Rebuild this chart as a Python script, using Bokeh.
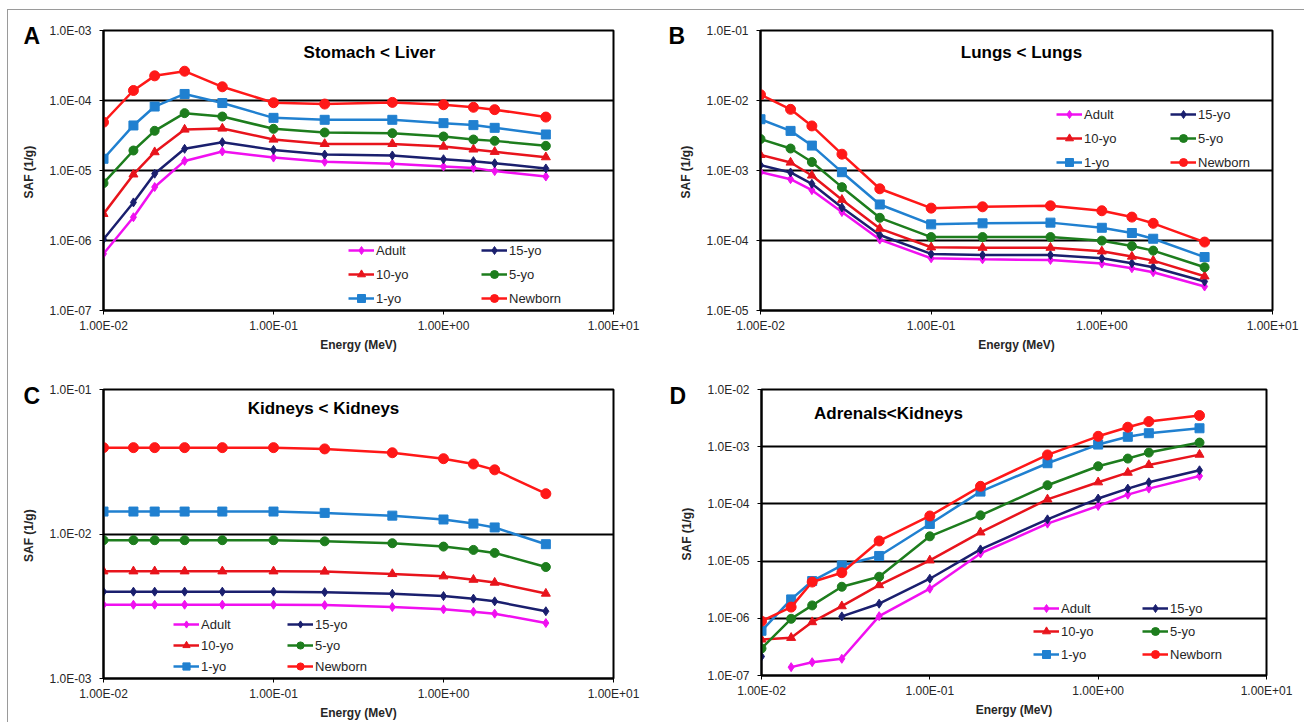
import math
from bokeh.plotting import figure
from bokeh.models import Range1d, FixedTicker, Legend, LegendItem, Label, Title
from bokeh.layouts import column, row
from bokeh.embed import file_html
from bokeh.resources import INLINE

NAN = float("nan")

energy = [0.01, 0.015, 0.02, 0.03, 0.05, 0.1, 0.2, 0.5, 1.0, 1.5, 2.0, 4.0]
series_names = ["Adult", "15-yo", "10-yo", "5-yo", "1-yo", "Newborn"]

x_ticks = [0.01, 0.1, 1.0, 10.0]
x_tick_labels = ["1.00E-02", "1.00E-01", "1.00E+00", "1.00E+01"]

# Panel A: Stomach < Liver
a_adult = [6.45e-7, 2.15e-6, 5.8e-6, 1.37e-5, 1.87e-5, 1.53e-5, 1.33e-5, 1.25e-5, 1.14e-5, 1.09e-5, 9.8e-6, 8.2e-6]
a_15yo = [1.04e-6, 3.5e-6, 9.0e-6, 2.04e-5, 2.54e-5, 1.97e-5, 1.69e-5, 1.64e-5, 1.45e-5, 1.36e-5, 1.27e-5, 1.07e-5]
a_10yo = [2.4e-6, 8.8e-6, 1.83e-5, 3.85e-5, 3.98e-5, 2.77e-5, 2.4e-5, 2.4e-5, 2.2e-5, 2.0e-5, 1.85e-5, 1.55e-5]
a_5yo = [6.6e-6, 1.93e-5, 3.69e-5, 6.6e-5, 5.9e-5, 3.94e-5, 3.49e-5, 3.41e-5, 3.06e-5, 2.77e-5, 2.65e-5, 2.25e-5]
a_1yo = [1.47e-5, 4.4e-5, 8.2e-5, 1.24e-4, 9.2e-5, 5.65e-5, 5.3e-5, 5.3e-5, 4.75e-5, 4.45e-5, 4.07e-5, 3.27e-5]
a_newborn = [4.9e-5, 1.39e-4, 2.25e-4, 2.62e-4, 1.57e-4, 9.3e-5, 8.9e-5, 9.4e-5, 8.7e-5, 8.0e-5, 7.4e-5, 5.8e-5]
a_y_ticks = [1e-7, 1e-6, 1e-5, 1e-4, 1e-3]
a_y_tick_labels = ["1.0E-07", "1.0E-06", "1.0E-05", "1.0E-04", "1.0E-03"]

# Panel B: Lungs < Lungs
b_adult = [9.46e-4, 7.52e-4, 5.24e-4, 2.55e-4, 1.03e-4, 5.57e-5, 5.39e-5, 5.27e-5, 4.68e-5, 4.01e-5, 3.52e-5, 2.2e-5]
b_15yo = [1.19e-3, 9.37e-4, 6.46e-4, 2.97e-4, 1.2e-4, 6.43e-5, 6.2e-5, 6.2e-5, 5.57e-5, 4.73e-5, 4.15e-5, 2.59e-5]
b_10yo = [1.67e-3, 1.3e-3, 8.49e-4, 3.82e-4, 1.48e-4, 8.0e-5, 7.9e-5, 7.9e-5, 7.0e-5, 5.9e-5, 5.16e-5, 3.08e-5]
b_5yo = [2.82e-3, 2.06e-3, 1.32e-3, 5.78e-4, 2.11e-4, 1.12e-4, 1.12e-4, 1.12e-4, 9.95e-5, 8.35e-5, 7.17e-5, 4.15e-5]
b_1yo = [5.4e-3, 3.68e-3, 2.27e-3, 9.46e-4, 3.27e-4, 1.7e-4, 1.76e-4, 1.8e-4, 1.52e-4, 1.28e-4, 1.06e-4, 5.8e-5]
b_newborn = [1.21e-2, 7.48e-3, 4.33e-3, 1.71e-3, 5.48e-4, 2.9e-4, 3.03e-4, 3.13e-4, 2.66e-4, 2.16e-4, 1.76e-4, 9.5e-5]
b_y_ticks = [1e-5, 1e-4, 1e-3, 1e-2, 1e-1]
b_y_tick_labels = ["1.0E-05", "1.0E-04", "1.0E-03", "1.0E-02", "1.0E-01"]

# Panel C: Kidneys < Kidneys
c_adult = [3.24e-3, 3.24e-3, 3.24e-3, 3.24e-3, 3.24e-3, 3.24e-3, 3.22e-3, 3.12e-3, 3.01e-3, 2.9e-3, 2.81e-3, 2.42e-3]
c_15yo = [3.99e-3, 3.99e-3, 3.99e-3, 3.99e-3, 3.99e-3, 3.99e-3, 3.96e-3, 3.86e-3, 3.72e-3, 3.57e-3, 3.42e-3, 2.92e-3]
c_10yo = [5.52e-3, 5.52e-3, 5.52e-3, 5.52e-3, 5.52e-3, 5.52e-3, 5.5e-3, 5.29e-3, 5.1e-3, 4.83e-3, 4.61e-3, 3.87e-3]
c_5yo = [9.06e-3, 9.06e-3, 9.06e-3, 9.06e-3, 9.06e-3, 9.06e-3, 8.9e-3, 8.63e-3, 8.18e-3, 7.76e-3, 7.4e-3, 5.91e-3]
c_1yo = [1.43e-2, 1.43e-2, 1.43e-2, 1.43e-2, 1.43e-2, 1.43e-2, 1.40e-2, 1.34e-2, 1.26e-2, 1.18e-2, 1.11e-2, 8.5e-3]
c_newborn = [3.96e-2, 3.96e-2, 3.96e-2, 3.96e-2, 3.96e-2, 3.96e-2, 3.88e-2, 3.65e-2, 3.32e-2, 3.05e-2, 2.78e-2, 1.9e-2]
c_y_ticks = [1e-3, 1e-2, 1e-1]
c_y_tick_labels = ["1.0E-03", "1.0E-02", "1.0E-01"]

# Panel D: Adrenals < Kidneys
d_adult = [NAN, 1.4e-7, 1.71e-7, 1.96e-7, 1.09e-6, 3.29e-6, 1.36e-5, 4.52e-5, 9.2e-5, 1.45e-4, 1.85e-4, 3.08e-4]
d_15yo = [2.15e-7, NAN, NAN, 1.08e-6, 1.8e-6, 4.92e-6, 1.6e-5, 5.37e-5, 1.24e-4, 1.85e-4, 2.39e-4, 3.87e-4]
d_10yo = [4.27e-7, 4.56e-7, 8.58e-7, 1.63e-6, 3.81e-6, 1.03e-5, 3.18e-5, 1.2e-4, 2.39e-4, 3.52e-4, 4.8e-4, 7.27e-4]
d_5yo = [2.97e-7, 9.8e-7, 1.68e-6, 3.56e-6, 5.33e-6, 2.71e-5, 6.31e-5, 2.12e-4, 4.55e-4, 6.2e-4, 7.89e-4, 1.18e-3]
d_1yo = [6.05e-7, 2.14e-6, 4.48e-6, 8.4e-6, 1.23e-5, 4.46e-5, 1.64e-4, 5.14e-4, 1.09e-3, 1.49e-3, 1.72e-3, 2.1e-3]
d_newborn = [8.9e-7, 1.57e-6, 4.3e-6, 6.27e-6, 2.25e-5, 6.15e-5, 2.03e-4, 7.18e-4, 1.52e-3, 2.19e-3, 2.75e-3, 3.51e-3]
d_y_ticks = [1e-7, 1e-6, 1e-5, 1e-4, 1e-3, 1e-2]
d_y_tick_labels = ["1.0E-07", "1.0E-06", "1.0E-05", "1.0E-04", "1.0E-03", "1.0E-02"]

FONT = "Liberation Sans"
colors = ["#f010f0", "#1a1f6e", "#e8141c", "#1d7d1d", "#2080d0", "#ff1818"]
markers = ["diamond", "diamond", "triangle", "circle", "square", "circle"]
msizes = [9, 9, 9, 9, 9, 10]


def make_panel(letter, title, data, y_ticks, y_labels, frame_w, frame_h, borders,
               letter_off, title_pos, leg1_pos, leg2_pos, leg_gh, leg_sp):
    bl, br, bt, bb = borders
    p = figure(frame_width=frame_w, frame_height=frame_h,
               x_axis_type="log", y_axis_type="log",
               x_range=Range1d(x_ticks[0], x_ticks[-1]),
               y_range=Range1d(y_ticks[0], y_ticks[-1]),
               output_backend="svg", toolbar_location=None,
               min_border_left=bl, min_border_right=br,
               min_border_top=bt, min_border_bottom=bb,
               background_fill_color="white", border_fill_color="white")
    p.outline_line_color = "black"
    p.outline_line_width = 2
    p.xgrid.grid_line_color = None
    p.ygrid.grid_line_color = "black"
    p.ygrid.grid_line_width = 2
    p.xaxis.ticker = FixedTicker(ticks=x_ticks, minor_ticks=[])
    p.yaxis.ticker = FixedTicker(ticks=y_ticks, minor_ticks=[])
    p.xaxis.major_label_overrides = {t: s for t, s in zip(x_ticks, x_tick_labels)}
    p.yaxis.major_label_overrides = {t: s for t, s in zip(y_ticks, y_labels)}
    for ax in (p.xaxis, p.yaxis):
        ax.axis_line_color = "black"
        ax.axis_line_width = 2
        ax.major_tick_line_color = "black"
        ax.major_tick_line_width = 1
        ax.major_tick_in = 0
        ax.major_tick_out = 4
        ax.minor_tick_line_color = None
        ax.major_label_text_font = FONT
        ax.major_label_text_font_size = "12px"
        ax.major_label_text_color = "#262626"
        ax.axis_label_text_font = FONT
        ax.axis_label_text_font_size = "12px"
        ax.axis_label_text_font_style = "bold"
        ax.axis_label_text_color = "#262626"
    p.xaxis.axis_label = "Energy (MeV)"
    p.yaxis.axis_label = "SAF  (1/g)"
    p.yaxis.major_label_standoff = 8
    p.yaxis.axis_label_standoff = 10
    p.xaxis.major_label_standoff = 4
    p.xaxis.axis_label_standoff = 2

    items = []
    for name, vals, c, m, s in zip(series_names, data, colors, markers, msizes):
        ln = p.line(energy, vals, line_color=c, line_width=2.5)
        sc = p.scatter(energy, vals, marker=m, size=s, fill_color=c, line_color=c)
        items.append(LegendItem(label=name, renderers=[ln, sc]))

    col1 = [items[0], items[2], items[4]]
    col2 = [items[1], items[3], items[5]]
    for its, pos in ((col1, leg1_pos), (col2, leg2_pos)):
        lg = Legend(items=its, location=pos, orientation="vertical",
                    label_text_font=FONT, label_text_font_size="13px",
                    label_text_color="#262626",
                    glyph_width=26, glyph_height=leg_gh, label_height=leg_gh,
                    label_standoff=2, spacing=leg_sp, padding=0, margin=0,
                    background_fill_alpha=0, border_line_alpha=0)
        p.add_layout(lg, "center")

    p.add_layout(Title(text=letter, align="left", vertical_align="bottom",
                       offset=letter_off[0], standoff=letter_off[1],
                       text_font=FONT, text_font_size="23px",
                       text_font_style="bold", text_color="black"), "above")
    p.add_layout(Label(x=title_pos[0], y=title_pos[1], x_units="screen", y_units="screen",
                       text=title, text_font=FONT, text_font_size="17px",
                       text_font_style="bold", text_color="black",
                       text_align="center", text_baseline="middle"))
    return p


pA = make_panel("A", "Stomach < Liver",
                [a_adult, a_15yo, a_10yo, a_5yo, a_1yo, a_newborn],
                a_y_ticks, a_y_tick_labels, 510, 280, (95, 43, 20, 52),
                (-80, -36), (266, 258), (245, 2), (378, 2), 20, 4)
pB = make_panel("B", "Lungs < Lungs",
                [b_adult, b_15yo, b_10yo, b_5yo, b_1yo, b_newborn],
                b_y_ticks, b_y_tick_labels, 512, 280, (104, 32, 20, 52),
                (-92, -36), (261, 258), (296, 138), (410, 138), 20, 4)
pC = make_panel("C", "Kidneys < Kidneys",
                [c_adult, c_15yo, c_10yo, c_5yo, c_1yo, c_newborn],
                c_y_ticks, c_y_tick_labels, 510, 289, (95, 43, 27, 39),
                (-80, -38), (220, 270), (70, 3), (184, 3), 18, 3)
pD = make_panel("D", "Adrenals<Kidneys",
                [d_adult, d_15yo, d_10yo, d_5yo, d_1yo, d_newborn],
                d_y_ticks, d_y_tick_labels, 505, 286, (105, 38, 27, 41),
                (-92, -38), (127, 262), (272, 11), (381, 11), 20, 3)

layout = column(row(pA, pB), row(pC, pD),
                styles={"margin-left": "7px", "margin-top": "9px",
                        "border-left": "1px solid #9a9a9a",
                        "border-top": "1px solid #9a9a9a"})

open("out.html", "w").write(file_html(layout, INLINE))
